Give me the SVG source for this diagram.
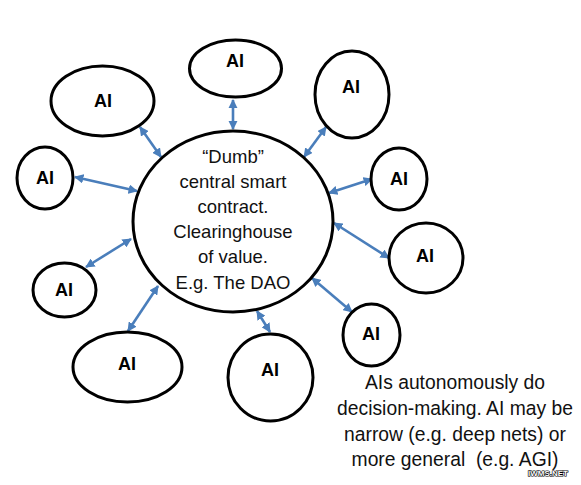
<svg xmlns="http://www.w3.org/2000/svg" width="581" height="485" viewBox="0 0 581 485">
<style>
.n{fill:#fff;stroke:#000;stroke-width:3}
.ai{font-family:"Liberation Sans",Arial,sans-serif;font-weight:bold;font-size:18px;text-anchor:middle;fill:#000}
.t{font-family:"Liberation Sans",Arial,sans-serif;font-size:18.5px;text-anchor:middle;fill:#111}
.m{font-family:"Liberation Sans",Arial,sans-serif;font-size:19.3px;text-anchor:middle;fill:#111;white-space:pre}
.c{fill:none;stroke:#4A7EBB;stroke-width:2.6;marker-start:url(#h);marker-end:url(#h)}
</style>
<defs>
<marker id="h" viewBox="0 0 10 10" refX="9" refY="5" markerWidth="3.6" markerHeight="3.6" orient="auto-start-reverse">
<path d="M0,0 L10,5 L0,10 Z" fill="#4A7EBB"/>
</marker>
</defs>
<g id="connectors">
<line class="c" x1="233" y1="100" x2="233" y2="129"/>
<line class="c" x1="140" y1="127" x2="161" y2="157"/>
<line class="c" x1="75" y1="177" x2="137" y2="191"/>
<line class="c" x1="326" y1="127" x2="304" y2="157"/>
<line class="c" x1="372" y1="179" x2="329" y2="193"/>
<line class="c" x1="334" y1="223" x2="389" y2="258"/>
<line class="c" x1="312" y1="278" x2="352" y2="312"/>
<line class="c" x1="257" y1="311" x2="270" y2="332"/>
<line class="c" x1="158" y1="286" x2="128" y2="331"/>
<line class="c" x1="131" y1="239" x2="86" y2="267"/>
</g>
<g id="center">
<ellipse class="n" cx="233" cy="221.5" rx="100" ry="90.5"/>
<text class="t" x="233" y="163">“Dumb”</text>
<text class="t" x="233" y="188">central smart</text>
<text class="t" x="233" y="213">contract.</text>
<text class="t" x="233" y="238">Clearinghouse</text>
<text class="t" x="233" y="263">of value.</text>
<text class="t" x="233" y="289">E.g. The DAO</text>
</g>
<g id="ai-top"><ellipse class="n" cx="235.5" cy="68.5" rx="46" ry="28.5"/><text class="ai" x="235" y="67">AI</text></g>
<g id="ai-upper-left"><ellipse class="n" cx="102.5" cy="101" rx="51.5" ry="35"/><text class="ai" x="103" y="107">AI</text></g>
<g id="ai-left"><ellipse class="n" cx="45" cy="178" rx="28" ry="31"/><text class="ai" x="45" y="184">AI</text></g>
<g id="ai-upper-right"><ellipse class="n" cx="352" cy="94.5" rx="37" ry="43.5"/><text class="ai" x="351" y="93">AI</text></g>
<g id="ai-right"><ellipse class="n" cx="399" cy="179" rx="28" ry="31"/><text class="ai" x="399" y="185">AI</text></g>
<g id="ai-right-lower"><ellipse class="n" cx="426" cy="258" rx="37" ry="35"/><text class="ai" x="425" y="262">AI</text></g>
<g id="ai-lower-right"><ellipse class="n" cx="371.5" cy="335" rx="28.5" ry="31"/><text class="ai" x="371" y="340">AI</text></g>
<g id="ai-bottom"><ellipse class="n" cx="270.5" cy="377.5" rx="42.5" ry="43.5"/><text class="ai" x="270" y="376">AI</text></g>
<g id="ai-bottom-left"><ellipse class="n" cx="127.5" cy="367" rx="54.5" ry="35"/><text class="ai" x="127" y="370">AI</text></g>
<g id="ai-left-lower"><ellipse class="n" cx="64.5" cy="290" rx="31.5" ry="27"/><text class="ai" x="64" y="296">AI</text></g>
<g id="note">
<text class="m" x="455" y="389">AIs autonomously do</text>
<text class="m" x="455" y="415">decision-making. AI may be</text>
<text class="m" x="455" y="441">narrow (e.g. deep nets) or</text>
<text class="m" x="455" y="466">more general  (e.g. AGI)</text>
</g>
<text x="548" y="476" font-family="'Liberation Sans',Arial,sans-serif" font-size="8" font-weight="bold" text-anchor="middle" fill="#fff" stroke="#000" stroke-width="1.2" paint-order="stroke">IWMS.NET</text>
</svg>
